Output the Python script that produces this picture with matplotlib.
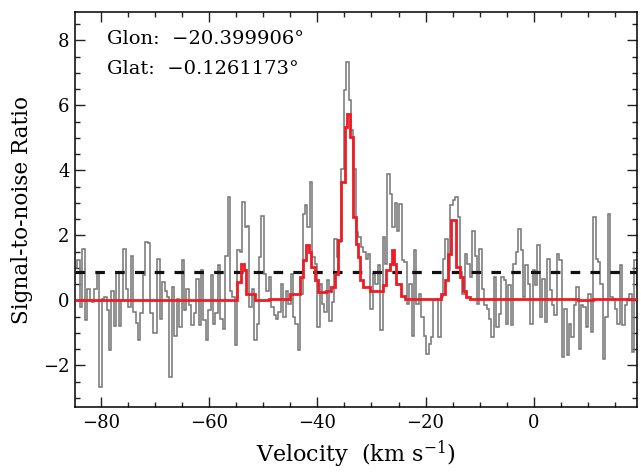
"""Signal-to-noise spectrum with fitted profile and detection threshold."""

import numpy as np
import matplotlib

matplotlib.use("Agg")
import matplotlib.pyplot as plt
from matplotlib.ticker import MultipleLocator

plt.rcParams["font.family"] = ["DejaVu Serif"]
plt.rcParams["mathtext.fontset"] = "dejavuserif"

# Channel grid of the spectrum (km/s)
v_start = -84.79
channel_width = 0.4475

# Observed S/N per channel, read left to right
snr = [
    # -84.8 .. -70.0
    1.0, 1.23, -0.2, 1.59, -0.6, 0.36, 0.0, -0.05, 0.36, 0.87, -2.67,
    0.05, 0.1, -0.3, -1.54, 0.3, -0.8, 0.87, -0.8, 0.0, 1.59, 0.36,
    -0.2, 1.38, -0.36, -0.7, -1.23, -0.4, 0.77, 1.8, 1.77, -0.4, -1.0,
    # -70.0 .. -55.2
    -1.0, 1.28, -0.56, 0.56, 0.3, 0.1, -2.36, 0.41, -1.08, 0.05, -0.82,
    1.23, -0.3, 0.36, -0.15, -0.77, -0.4, 0.67, -0.77, 0.92, -0.6, -1.23,
    -0.3, 0.77, -0.72, -0.4, 1.08, -0.56, -0.87, 1.38, 3.18, 0.3, 0.1,
    # -55.2 .. -40.4
    -1.38, 1.54, 1.49, 3.03, 2.26, 2.3, -0.2, 0.36, -1.23, -0.72, 1.33,
    2.6, 0.82, 0.3, 0.72, -0.2, -0.46, -0.56, -0.36, 0.51, -0.51, 0.3,
    -0.1, 0.82, -0.51, -0.72, -1.54, 0.2, 2.67, 2.92, 2.26, 3.64, 1.33,
    # -40.4 .. -25.7
    1.13, -0.82, 0.51, -0.1, -0.36, 0.62, -0.62, -0.05, 1.9, 1.33, 1.8,
    4.05, 6.46, 7.33, 6.15, 5.23, 4.05, 2.1, 1.95, 1.64, 1.49, 1.28,
    1.44, -0.26, 0.82, 0.51, 1.08, -0.92, 1.95, 1.13, 3.9, 3.28, 2.26,
    # -25.7 .. -10.9
    3.0, 2.15, 2.97, 1.23, 1.18, -0.1, 0.51, -1.08, 1.54, -0.1, 0.2,
    -0.51, -1.08, -1.64, -1.33, -1.13, 0.0, 0.05, -1.13, 0.1, 1.28, 1.9,
    0.92, 2.92, 3.08, 3.18, 2.56, 0.87, 0.2, 1.44, 1.13, 0.72, 2.15,
    # -10.9 .. 3.8
    1.38, -0.1, 1.59, 0.36, -0.15, -0.26, -0.56, -1.13, 0.72, -0.82, -0.41,
    0.72, 0.62, -0.72, 0.46, -0.77, 1.13, 1.49, 2.2, 1.54, 0.1, 1.08,
    0.51, -0.72, 0.92, 0.46, 1.69, -0.51, 0.67, -0.67, 1.28, 0.31, -0.15,
    # 3.8 .. 19.5
    -0.46, 1.44, 1.23, -1.74, -0.26, -1.69, -0.72, -1.13, -0.15, 0.41, -1.49,
    -0.15, -0.2, -0.82, 0.2, -0.97, 2.56, 1.28, 1.18, 0.51, -1.8, -0.51,
    2.67, 0.1, 0.05, -0.26, -0.72, 1.08, -0.77, -0.15, 0.05, 0.2, -1.59,
    1.23, 0.41,
]

# Fitted profile as steps
fit_edges = [
    -84.8, -54.94, -54.2, -53.59, -53.1, -51.56, -49.0, -45.1, -43.25,
    -42.64, -42.14, -41.53, -41.1, -40.48, -39.87, -38.33, -37.4, -36.79,
    -36.18, -35.56, -34.95, -34.52, -33.9, -33.41, -32.91, -32.49, -32.18,
    -31.56, -30.33, -27.87, -27.25, -26.64, -26.21, -25.84, -25.4, -24.48,
    -23.87, -17.1, -16.49, -15.87, -15.25, -14.33, -13.72, -13.1, -12.48,
    -11.87, 8.12, 10.9, 19.1,
]
fit_values = [
    0.0, 0.56, 1.13, 0.92, 0.2, 0.0, 0.05, 0.2, 0.72, 1.23, 1.7, 1.49,
    1.03, 0.62, 0.26, 0.3, 0.41, 0.82, 1.85, 3.64, 5.33, 5.74, 5.03, 2.56,
    1.74, 1.33, 0.62, 0.41, 0.3, 0.46, 0.92, 1.13, 1.54, 1.13, 0.51, 0.15,
    0.05, 0.2, 0.62, 1.44, 2.46, 1.03, 0.72, 0.3, 0.1, 0.05, 0.0, 0.03,
]

threshold = 0.86
glon_text = "Glon:  \u221220.399906\u00b0"
glat_text = "Glat:  \u22120.1261173\u00b0"

fig = plt.figure(figsize=(6.41, 4.73), dpi=100)
ax = fig.add_axes([0.117, 0.1395, 0.8765, 0.835])

edges = v_start + channel_width * np.arange(len(snr) + 1)
ax.stairs(snr, edges, baseline=None, color="#747474", lw=1.1, zorder=2)
ax.axhline(threshold, color="#111111", lw=2.3, linestyle=(0, (3.0, 3.2)),
           zorder=3)
ax.stairs(fit_values, fit_edges, baseline=None, color="#ee1c24", lw=2.0,
          zorder=4)

ax.set_xlim(-84.8, 19.05)
ax.set_ylim(-3.28, 8.87)

ax.xaxis.set_major_locator(MultipleLocator(20))
ax.xaxis.set_minor_locator(MultipleLocator(5))
ax.yaxis.set_major_locator(MultipleLocator(2))
ax.yaxis.set_minor_locator(MultipleLocator(0.5))
ax.tick_params(which="both", direction="in", top=True, right=True,
               labelsize=13, width=1.0, color="#222222")
ax.tick_params(which="major", length=7.2, pad=5)
ax.tick_params(which="minor", length=3.6)
ax.tick_params(axis="y", pad=4)
for spine in ax.spines.values():
    spine.set_linewidth(1.1)

ax.set_xlabel("Velocity  (km s$^{-1}$)", fontsize=16, labelpad=5)
ax.set_ylabel("Signal-to-noise Ratio", fontsize=15.5, labelpad=7)

ax.text(0.057, 0.955, glon_text, transform=ax.transAxes, fontsize=14,
        va="top", ha="left")
ax.text(0.057, 0.878, glat_text, transform=ax.transAxes, fontsize=14,
        va="top", ha="left")

fig.savefig("out.png", dpi=100)
